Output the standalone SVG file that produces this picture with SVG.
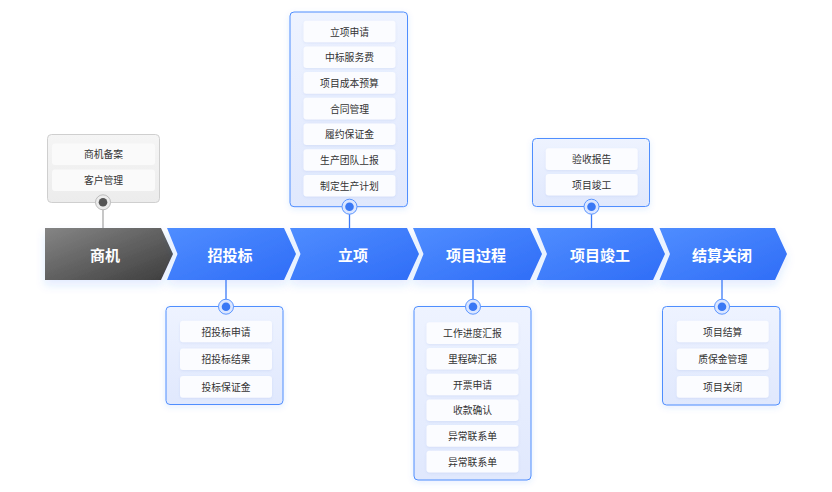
<svg xmlns="http://www.w3.org/2000/svg" width="832" height="492" viewBox="0 0 832 492">
<defs>
<linearGradient id="gBlue" x1="0" y1="0" x2="1" y2="1">
<stop offset="0" stop-color="#4f8dff"/>
<stop offset="1" stop-color="#2f6df7"/>
</linearGradient>
<linearGradient id="gGray" x1="0" y1="0" x2="1" y2="1">
<stop offset="0" stop-color="#858585"/>
<stop offset="1" stop-color="#3d3d3d"/>
</linearGradient>
<linearGradient id="gBox" x1="0" y1="0" x2="0" y2="1">
<stop offset="0" stop-color="#eef3ff"/>
<stop offset="1" stop-color="#e0e8fd"/>
</linearGradient>
<linearGradient id="gBoxGray" x1="0" y1="0" x2="0" y2="1">
<stop offset="0" stop-color="#f5f5f5"/>
<stop offset="1" stop-color="#ececec"/>
</linearGradient>
<filter id="shChev" x="-20%" y="-30%" width="140%" height="180%">
<feDropShadow dx="0" dy="5" stdDeviation="5" flood-color="#3370ff" flood-opacity="0.14"/>
</filter>
<filter id="shBox" x="-20%" y="-20%" width="140%" height="140%">
<feDropShadow dx="0" dy="2" stdDeviation="3" flood-color="#3370ff" flood-opacity="0.12"/>
</filter>
<filter id="shItem" x="-10%" y="-20%" width="120%" height="160%">
<feDropShadow dx="0" dy="1" stdDeviation="1.2" flood-color="#6c8ed8" flood-opacity="0.15"/>
</filter>
</defs>
<style>
text{font-family:"Noto Sans CJK SC","Noto Sans",sans-serif;}
.chev{fill:url(#gBlue);filter:url(#shChev);}
.chevG{fill:url(#gGray);filter:url(#shChev);}
.clabel{font-size:15px;font-weight:bold;fill:#ffffff;text-anchor:middle;dominant-baseline:central;}
.box{fill:url(#gBox);stroke:#4f8efe;stroke-width:1;filter:url(#shBox);}
.boxG{fill:url(#gBoxGray);stroke:#cfcfcf;stroke-width:1;}
.item{fill:#fbfcff;filter:url(#shItem);}
.itemG{fill:#fafafa;}
.itxt{font-size:9.8px;fill:#333333;text-anchor:middle;dominant-baseline:central;}
.ln{stroke:#3d7bf7;stroke-width:1.3;fill:none;}
.lnG{stroke:#aaaaaa;stroke-width:1.3;fill:none;}
.ring{fill:#dbe6ff;stroke:#5b95ff;stroke-width:1;}
.dot{fill:#3a78f5;}
.ringG{fill:#ececec;stroke:#bdbdbd;stroke-width:1;}
.dotG{fill:#555555;}
</style>

<g id="connectors">
<line class="lnG" x1="103" y1="202" x2="103" y2="228"/>
<line class="ln" x1="226" y1="280" x2="226" y2="306.5"/>
<line class="ln" x1="349.5" y1="206.5" x2="349.5" y2="228"/>
<line class="ln" x1="473" y1="280" x2="473" y2="306.5"/>
<line class="ln" x1="591.5" y1="206.5" x2="591.5" y2="228"/>
<line class="ln" x1="722" y1="280" x2="722" y2="306.5"/>
</g>

<g id="node-shangji">
<rect class="boxG" x="47.5" y="134.5" width="112" height="68" rx="4"/>
<rect class="itemG" x="52" y="143.5" width="103" height="21.5" rx="3"/>
<text class="itxt" x="103.5" y="154.3">商机备案</text>
<rect class="itemG" x="52" y="169.5" width="103" height="21.5" rx="3"/>
<text class="itxt" x="103.5" y="180.3">客户管理</text>
<circle class="ringG" cx="103" cy="202.3" r="7.5"/>
<circle class="dotG" cx="103" cy="202.3" r="4.3"/>
<path class="chevG" d="M45,228 H161 L173,254 L161,280 H45 Z"/>
<text class="clabel" x="105" y="254">商机</text>
</g>

<g id="node-zhaotoubiao">
<path class="chev" d="M167,228 H284 L296,254 L284,280 H167 L177.5,254 Z"/>
<text class="clabel" x="230" y="254">招投标</text>
<rect class="box" x="166" y="306.5" width="117" height="98" rx="4"/>
<rect class="item" x="180" y="320.7" width="92" height="21.6" rx="3"/>
<text class="itxt" x="226" y="331.5">招投标申请</text>
<rect class="item" x="180" y="348.4" width="92" height="21.6" rx="3"/>
<text class="itxt" x="226" y="359.2">招投标结果</text>
<rect class="item" x="180" y="376.1" width="92" height="21.6" rx="3"/>
<text class="itxt" x="226" y="386.9">投标保证金</text>
<circle class="ring" cx="226" cy="306.7" r="7.5"/>
<circle class="dot" cx="226" cy="306.7" r="4.3"/>
</g>

<g id="node-lixiang">
<path class="chev" d="M290,228 H407 L419,254 L407,280 H290 L300.5,254 Z"/>
<text class="clabel" x="353" y="254">立项</text>
<rect class="box" x="290" y="12" width="117.5" height="194.7" rx="4"/>
<rect class="item" x="303.5" y="20.7" width="92" height="21.6" rx="3"/>
<text class="itxt" x="349.5" y="31.5">立项申请</text>
<rect class="item" x="303.5" y="46.4" width="92" height="21.6" rx="3"/>
<text class="itxt" x="349.5" y="57.2">中标服务费</text>
<rect class="item" x="303.5" y="72.1" width="92" height="21.6" rx="3"/>
<text class="itxt" x="349.5" y="82.9">项目成本预算</text>
<rect class="item" x="303.5" y="97.8" width="92" height="21.6" rx="3"/>
<text class="itxt" x="349.5" y="108.6">合同管理</text>
<rect class="item" x="303.5" y="123.5" width="92" height="21.6" rx="3"/>
<text class="itxt" x="349.5" y="134.3">履约保证金</text>
<rect class="item" x="303.5" y="149.2" width="92" height="21.6" rx="3"/>
<text class="itxt" x="349.5" y="160">生产团队上报</text>
<rect class="item" x="303.5" y="174.9" width="92" height="21.6" rx="3"/>
<text class="itxt" x="349.5" y="185.7">制定生产计划</text>
<circle class="ring" cx="349.5" cy="206.7" r="7.5"/>
<circle class="dot" cx="349.5" cy="206.7" r="4.3"/>
</g>

<g id="node-xiangmuguocheng">
<path class="chev" d="M413,228 H530 L542,254 L530,280 H413 L423.5,254 Z"/>
<text class="clabel" x="476" y="254">项目过程</text>
<rect class="box" x="414" y="306.5" width="117" height="173.5" rx="4"/>
<rect class="item" x="426.5" y="322.3" width="92" height="21.6" rx="3"/>
<text class="itxt" x="472.5" y="333.1">工作进度汇报</text>
<rect class="item" x="426.5" y="348" width="92" height="21.6" rx="3"/>
<text class="itxt" x="472.5" y="358.8">里程碑汇报</text>
<rect class="item" x="426.5" y="373.7" width="92" height="21.6" rx="3"/>
<text class="itxt" x="472.5" y="384.5">开票申请</text>
<rect class="item" x="426.5" y="399.4" width="92" height="21.6" rx="3"/>
<text class="itxt" x="472.5" y="410.2">收款确认</text>
<rect class="item" x="426.5" y="425.1" width="92" height="21.6" rx="3"/>
<text class="itxt" x="472.5" y="435.9">异常联系单</text>
<rect class="item" x="426.5" y="450.8" width="92" height="21.6" rx="3"/>
<text class="itxt" x="472.5" y="461.6">异常联系单</text>
<circle class="ring" cx="473" cy="306.7" r="7.5"/>
<circle class="dot" cx="473" cy="306.7" r="4.3"/>
</g>

<g id="node-xiangmujungong">
<path class="chev" d="M536.5,228 H653 L665,254 L653,280 H536.5 L547,254 Z"/>
<text class="clabel" x="600" y="254">项目竣工</text>
<rect class="box" x="532.5" y="138.5" width="117" height="68" rx="4"/>
<rect class="item" x="545.7" y="148.3" width="92" height="21.6" rx="3"/>
<text class="itxt" x="591.7" y="159.1">验收报告</text>
<rect class="item" x="545.7" y="174" width="92" height="21.6" rx="3"/>
<text class="itxt" x="591.7" y="184.8">项目竣工</text>
<circle class="ring" cx="591.5" cy="206.7" r="7.5"/>
<circle class="dot" cx="591.5" cy="206.7" r="4.3"/>
</g>

<g id="node-jiesuanguanbi">
<path class="chev" d="M659.5,228 H775 L787,254 L775,280 H659.5 L670,254 Z"/>
<text class="clabel" x="722" y="254">结算关闭</text>
<rect class="box" x="662.5" y="306.5" width="117.5" height="98.5" rx="4"/>
<rect class="item" x="676.7" y="320.7" width="92" height="21.6" rx="3"/>
<text class="itxt" x="722.7" y="331.5">项目结算</text>
<rect class="item" x="676.7" y="348.4" width="92" height="21.6" rx="3"/>
<text class="itxt" x="722.7" y="359.2">质保金管理</text>
<rect class="item" x="676.7" y="376.1" width="92" height="21.6" rx="3"/>
<text class="itxt" x="722.7" y="386.9">项目关闭</text>
<circle class="ring" cx="722" cy="306.7" r="7.5"/>
<circle class="dot" cx="722" cy="306.7" r="4.3"/>
</g>
</svg>
